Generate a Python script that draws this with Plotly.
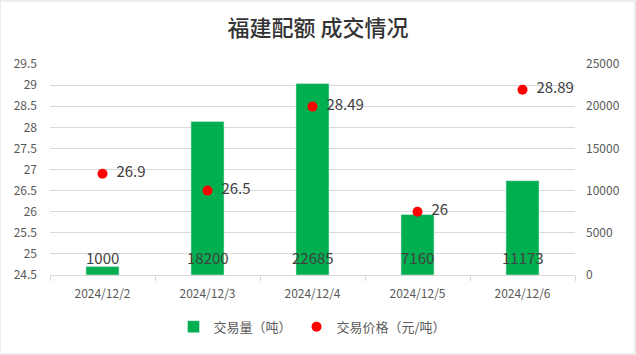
import plotly.graph_objects as go

dates = ["2024/12/2", "2024/12/3", "2024/12/4", "2024/12/5", "2024/12/6"]
volume = [1000, 18200, 22685, 7160, 11173]
price_dates = ["2024/12/2", "2024/12/3", "2024/12/4", "2024/12/5", "2024/12/6"]
price = [26.9, 26.5, 28.49, 26, 28.89]
price_labels = ["26.9", "26.5", "28.49", "26", "28.89"]
price_ticks = [24.5, 25, 25.5, 26, 26.5, 27, 27.5, 28, 28.5, 29, 29.5]
price_tick_text = ["24.5", "25", "25.5", "26", "26.5", "27", "27.5", "28", "28.5", "29", "29.5"]

fig = go.Figure()
fig.add_trace(go.Bar(
    x=dates, y=volume, name="交易量（吨）", yaxis="y",
    marker=dict(color="#00b050"), width=0.315,
))
fig.add_trace(go.Scatter(
    x=price_dates, y=price, name="交易价格（元/吨）", mode="markers+text", yaxis="y2",
    marker=dict(color="#ff0000", size=10),
    text=["\u00a0\u00a0" + t for t in price_labels], textposition="middle right",
    textfont=dict(size=15, color="#404040"),
))

for d, v in zip(dates, volume):
    fig.add_annotation(x=d, y=0.085, xref="x", yref="paper", yanchor="middle", text=str(v),
                       showarrow=False, font=dict(size=15, color="#404040"))

fig.add_shape(type="rect", xref="paper", yref="paper", x0=-50/525, x1=1+60/525,
              y0=-79/211, y1=1+63/211, line=dict(color="#d9d9d9", width=1))

fig.update_layout(
    width=636, height=355,
    margin=dict(l=50, r=61, t=64, b=80),
    paper_bgcolor="white", plot_bgcolor="white",
    font=dict(family="Noto Sans CJK SC, sans-serif", color="#595959", size=12),
    title=dict(text="福建配额 成交情况", x=0.5, xanchor="center", y=0.92, yanchor="middle",
               font=dict(size=22, color="#333333", family="Noto Sans CJK SC", weight=500)),
    xaxis=dict(type="category", showgrid=False, showline=True, linecolor="#d9d9d9",
               ticks="outside", tickcolor="#d9d9d9", ticklen=5,
               tickson="boundaries", ticklabelstandoff=8,
               tickfont=dict(size=12, color="#595959")),
    yaxis=dict(range=[0, 25000], tickvals=[0, 5000, 10000, 15000, 20000, 25000],
               ticktext=["0", "5000", "10000", "15000", "20000", "25000"],
               side="right", showgrid=True, gridcolor="#d9d9d9",
               minor=dict(dtick=2500, showgrid=True, gridcolor="#d9d9d9"),
               zeroline=False, tickfont=dict(size=12, color="#595959"),
               ticklabelstandoff=10),
    yaxis2=dict(range=[24.5, 29.5], tickvals=price_ticks, ticktext=price_tick_text,
                overlaying="y", side="left",
                showgrid=False, zeroline=False, tickfont=dict(size=12, color="#595959"),
                ticklabelstandoff=12),
    legend=dict(orientation="h", x=0.5, xanchor="center", y=-0.245, yanchor="middle",
                font=dict(size=13, color="#595959"), itemwidth=30, traceorder="normal"),
    showlegend=True,
)
fig.write_html("out.html")
